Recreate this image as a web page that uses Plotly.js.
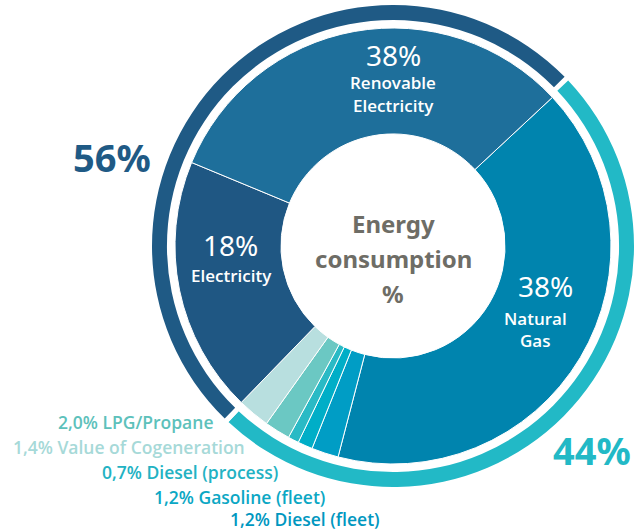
<!DOCTYPE html>
<html>
<head>
<meta charset="utf-8">
<script src="https://cdn.plot.ly/plotly-3.0.1.min.js"></script>
<style>html,body{margin:0;padding:0;background:#fff;}#chart{width:635px;height:532px;}</style>
</head>
<body>
<div id="chart"></div>
<script>
// Inner donut: sources (order clockwise from Natural Gas)
const sources = ["Natural Gas", "Diesel (fleet)", "Gasoline (fleet)", "Diesel (process)", "Value of Cogeneration", "LPG/Propane", "Electricity", "Renewable Electricity"];
// arc sizes as drawn in the picture (% of the circle)
const drawnShare = [41.0, 2.0, 1.1, 0.8, 1.9, 2.4, 19.0, 31.8];
// stated shares (label text)
const statedShare = ["38%", "1,2%", "1,2%", "0,7%", "1,4%", "2,0%", "18%", "38%"];
const sourceColors = ["#0084AE", "#009DC5", "#00AEC7", "#2ABAC5", "#6BC8C3", "#B8DFDF", "#1F5783", "#1E6F9B"];

// Outer ring: groups
const groups = ["gap1", "44%", "gap2", "56%"];
const groupDrawn = [0.34, 49.0, 0.34, 50.3];
const groupColors = ["#ffffff", "#22B9C6", "#ffffff", "#1F5A85"];

// Small-source legend labels
const smallLabels = ["2,0% LPG/Propane", "1,4% Value of Cogeneration", "0,7% Diesel (process)", "1,2% Gasoline (fleet)", "1,2% Diesel (fleet)"];
const smallColors = ["#5DC1BB", "#A6D9D8", "#22B2C3", "#0BA7C4", "#0097BF"];

const W = 635, H = 532;
const cx = 393, cy = 246;
function dom(r) {
  return {x: [(cx - r) / W, (cx + r) / W], y: [(H - cy - r) / H, (H - cy + r) / H]};
}
const px = x => x / W, py = y => 1 - y / H;
const FONT = "Open Sans, Noto Sans, sans-serif";
const NUMFONT = "Noto Sans, Open Sans, sans-serif";

const inner = {
  type: "pie", labels: sources, values: drawnShare, sort: false, direction: "clockwise",
  rotation: 47, hole: 0.514, domain: dom(218), textinfo: "none", hoverinfo: "label",
  marker: {colors: sourceColors, line: {color: "#ffffff", width: 1}}, showlegend: false
};
const ring = {
  type: "pie", labels: groups, values: groupDrawn, sort: false, direction: "clockwise",
  rotation: 45.4, hole: 0.938, domain: dom(241), textinfo: "none", hoverinfo: "skip",
  marker: {colors: groupColors, line: {width: 0}}, showlegend: false
};

const ann = [];
function add(text, x, y, size, color, weight, anchor, fam) {
  ann.push({text: text, xref: "paper", yref: "paper", x: px(x), y: py(y), showarrow: false,
    xanchor: anchor || "center", yanchor: "middle",
    font: {family: fam || FONT, size: size, color: color, weight: weight || 400}});
}
// slice labels
add(statedShare[7], 393, 55, 28, "#ffffff", 400, "center", NUMFONT);
add("Renovable", 393, 83, 17, "#ffffff", 600);
add("Electricity", 393, 105, 17, "#ffffff", 600);
add(statedShare[6], 230, 245, 28, "#ffffff", 400, "center", NUMFONT);
add(sources[6], 231, 275, 17, "#ffffff", 600);
add(statedShare[0], 545, 286, 28, "#ffffff", 400, "center", NUMFONT);
add("Natural", 535, 318, 17, "#ffffff", 600);
add("Gas", 535, 340, 17, "#ffffff", 600);
// group totals
add(groups[3], 112, 157, 38, groupColors[3], 700, "center", NUMFONT);
add(groups[1], 592, 450, 38, groupColors[1], 700, "center", NUMFONT);
// center
add("Energy", 393, 223, 24, "#6E6D66", 700, "center", NUMFONT);
add("consumption", 393, 258, 24, "#6E6D66", 700, "center", NUMFONT);
add("%", 393, 293, 24, "#6E6D66", 700, "center", NUMFONT);
// small sources
const smallRight = [215, 247, 280, 327, 382];
const smallY = [422, 447, 472, 497, 519];
smallLabels.forEach((t, i) => add(t, smallRight[i], smallY[i], 17.5, smallColors[i], 600, "right"));

Plotly.newPlot("chart", [inner, ring], {
  width: W, height: H, margin: {l: 0, r: 0, t: 0, b: 0},
  paper_bgcolor: "#ffffff", plot_bgcolor: "#ffffff", showlegend: false,
  annotations: ann
}, {displayModeBar: false, staticPlot: true});
</script>
</body>
</html>
